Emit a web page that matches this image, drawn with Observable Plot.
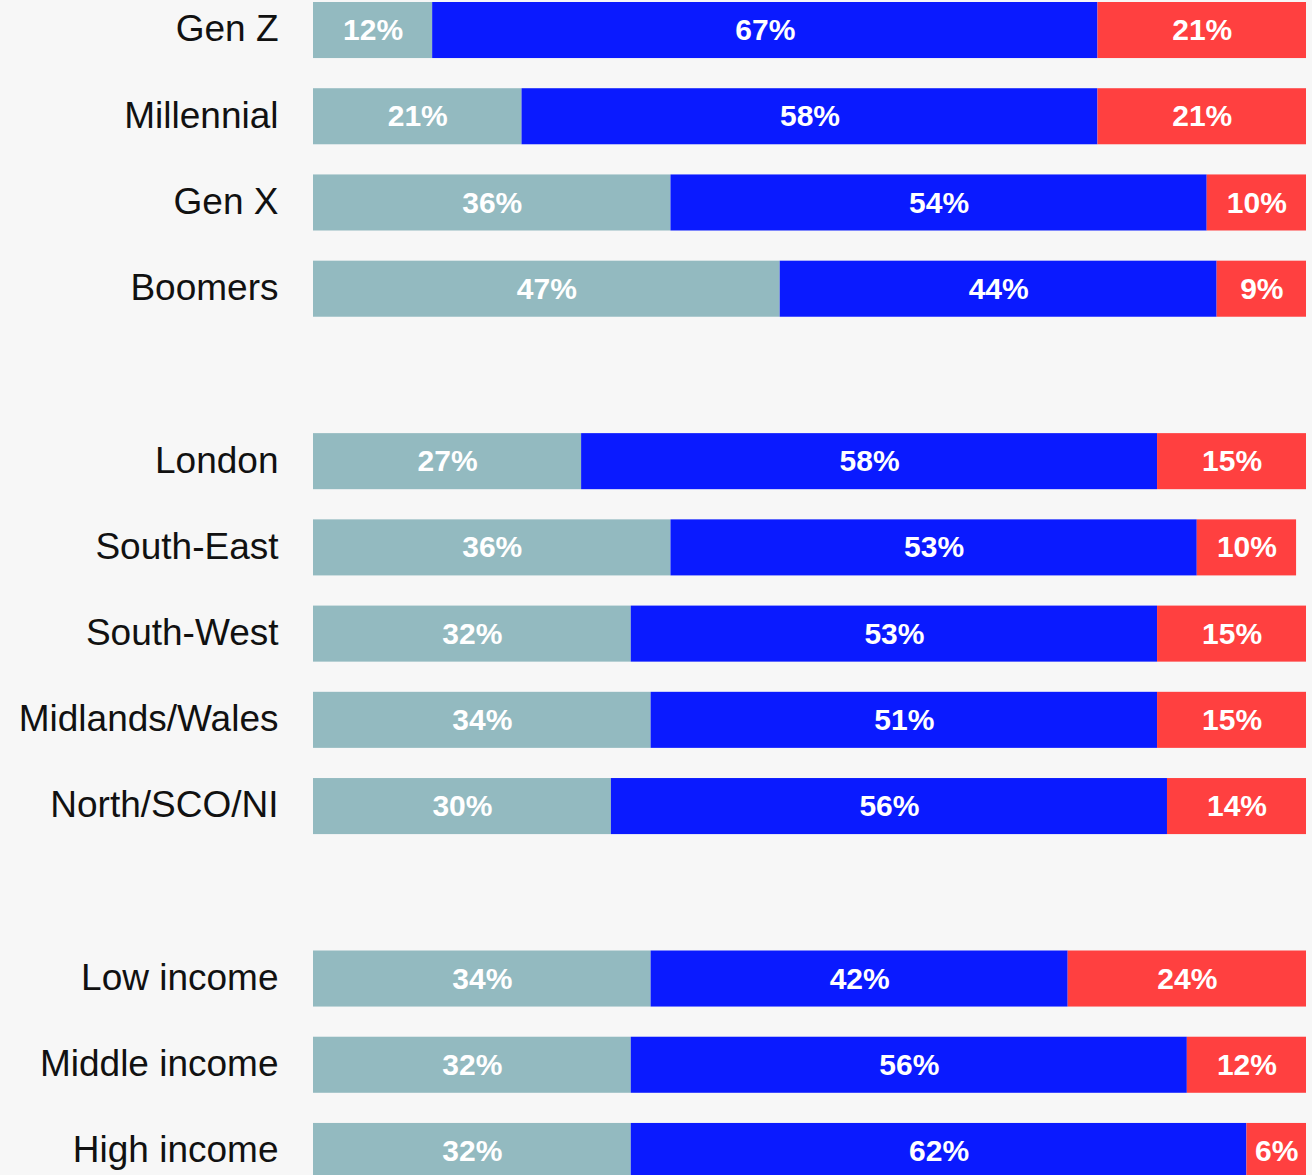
<!DOCTYPE html>
<html>
<head>
<meta charset="utf-8">
<script src="https://cdn.jsdelivr.net/npm/d3@7"></script>
<script src="https://cdn.jsdelivr.net/npm/@observablehq/plot@0.6"></script>
<style>
  html, body { margin: 0; padding: 0; background: #f7f7f7; }
  #chart svg { display: block; }
</style>
</head>
<body>
<div id="chart"></div>
<script>
// Row layout (blank strings are the gaps between groups)
const rows = ["Gen Z", "Millennial", "Gen X", "Boomers", "",
  "London", "South-East", "South-West", "Midlands/Wales", "North/SCO/NI", " ",
  "Low income", "Middle income", "High income"];
const categories = ["Gen Z", "Millennial", "Gen X", "Boomers",
  "London", "South-East", "South-West", "Midlands/Wales", "North/SCO/NI",
  "Low income", "Middle income", "High income"];
// Three segments per row, in percent (left, middle, right)
const segLeft   = [12, 21, 36, 47, 27, 36, 32, 34, 30, 34, 32, 32];
const segMiddle = [67, 58, 54, 44, 58, 53, 53, 51, 56, 42, 56, 62];
const segRight  = [21, 21, 10,  9, 15, 10, 15, 15, 14, 24, 12,  6];
const seriesNames = ["left", "middle", "right"];
const seriesColors = ["#93bac0", "#0a1aff", "#ff4040"];

const data = [];
categories.forEach((c, i) => {
  data.push({cat: c, series: "left", value: segLeft[i]});
  data.push({cat: c, series: "middle", value: segMiddle[i]});
  data.push({cat: c, series: "right", value: segRight[i]});
});

const font = "'Liberation Sans', Arial, Helvetica, sans-serif";

const chart = Plot.plot({
  width: 1312,
  height: 1175,
  marginLeft: 313,
  marginRight: 6,
  marginTop: 0,
  marginBottom: 0,
  style: {background: "#f7f7f7", fontFamily: font},
  x: {domain: [0, 100], axis: null},
  y: {domain: rows, range: [2, 1179], paddingInner: 0.35, paddingOuter: 0, align: 0, round: false, axis: null},
  color: {domain: seriesNames, range: seriesColors},
  marks: [
    Plot.barX(data, {
      y: "cat", x: "value", fill: "series", z: "series", order: seriesNames
    }),
    Plot.text(data, Plot.stackX({
      y: "cat", x: "value", z: "series", order: seriesNames,
      text: d => d.value + "%",
      fill: "white", fontSize: 30, fontWeight: "bold", fontFamily: font
    })),
    Plot.axisY(categories, {
      tickSize: 0, tickPadding: 35, fontSize: 37, fill: "#111",
      fontFamily: font, label: null, dy: -1
    })
  ]
});
document.getElementById("chart").appendChild(chart);
</script>
</body>
</html>
